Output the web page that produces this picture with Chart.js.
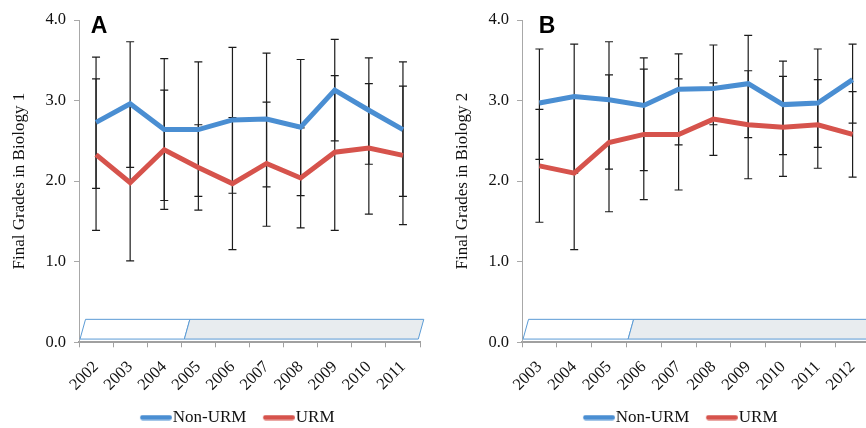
<!DOCTYPE html>
<html><head><meta charset="utf-8">
<script src="https://cdn.jsdelivr.net/npm/chart.js@4.4.0/dist/chart.umd.min.js"></script>
<style>
html,body{margin:0;padding:0;background:#fff;width:866px;height:428px;overflow:hidden;position:relative}
#ca{position:absolute;left:0;top:0}
#cb{position:absolute;left:443px;top:0}
</style></head><body>
<canvas id="ca" width="468" height="436"></canvas>
<canvas id="cb" width="468" height="436"></canvas>
<script>
// ---- Panel A: Biology 1 ----
const yearsA = ['2002','2003','2004','2005','2006','2007','2008','2009','2010','2011'];
const nonUrmA   = [2.73, 2.96, 2.64, 2.64, 2.76, 2.77, 2.67, 3.13, 2.88, 2.64];
const nonUrmHiA = [3.54, 3.73, 3.52, 3.48, 3.66, 3.59, 3.51, 3.76, 3.53, 3.48];
const nonUrmLoA = [1.91, 2.17, 1.76, 1.81, 1.85, 1.93, 1.82, 2.50, 2.21, 1.81];
const urmA      = [2.33, 1.98, 2.39, 2.17, 1.97, 2.22, 2.04, 2.36, 2.41, 2.32];
const urmHiA    = [3.27, 2.95, 3.13, 2.70, 2.79, 2.98, 2.66, 3.31, 3.21, 3.18];
const urmLoA    = [1.39, 1.01, 1.65, 1.64, 1.15, 1.44, 1.42, 1.39, 1.59, 1.46];
// phases (category-index ranges): before / after curriculum change
const phasesA = [[-0.47, 2.59], [2.59, 9.45]];

// ---- Panel B: Biology 2 ----
const yearsB = ['2003','2004','2005','2006','2007','2008','2009','2010','2011','2012'];
const nonUrmB   = [2.97, 3.05, 3.01, 2.94, 3.14, 3.15, 3.21, 2.95, 2.97, 3.26];
const nonUrmHiB = [3.64, 3.70, 3.73, 3.53, 3.58, 3.69, 3.81, 3.49, 3.64, 3.70];
const nonUrmLoB = [2.27, 2.10, 2.15, 2.13, 2.45, 2.70, 2.54, 2.33, 2.42, 2.72];
const urmB      = [2.19, 2.10, 2.48, 2.58, 2.58, 2.77, 2.70, 2.67, 2.70, 2.58];
const urmHiB    = [2.89, 3.05, 3.32, 3.39, 3.27, 3.22, 3.37, 3.30, 3.26, 3.11];
const urmLoB    = [1.49, 1.15, 1.62, 1.77, 1.89, 2.32, 2.03, 2.06, 2.16, 2.05];
const phasesB = [[-0.47, 2.55], [2.55, 9.6]];

const seriesNames = ['Non-URM', 'URM'];
const yTickValues = [0, 1, 2, 3, 4];
const phaseBand = [0.04, 0.285];

const BLUE = '#4a8ed2', RED = '#d6534c';
const SERIF = '"Liberation Serif", "Times New Roman", serif';

// legend swatch: rounded line, drawn right of the legend box centre
function swatch(color) {
  const c = document.createElement('canvas');
  c.width = 46; c.height = 6;
  const g = c.getContext('2d');
  g.strokeStyle = color; g.lineWidth = 5; g.lineCap = 'round';
  g.beginPath(); g.moveTo(16.7, 3); g.lineTo(43.4, 3); g.stroke();
  return c;
}

const decor = {
  id: 'decor',
  beforeDatasetsDraw(chart, args, opts) {
    const ctx = chart.ctx, x = chart.scales.x, y = chart.scales.y;
    ctx.save();
    // phase parallelograms
    const yb = y.getPixelForValue(phaseBand[0]), yt = y.getPixelForValue(phaseBand[1]);
    const slant = 5.5;
    opts.phases.forEach((p, k) => {
      const x0 = x.getPixelForValue(p[0]), x1 = x.getPixelForValue(p[1]);
      ctx.beginPath();
      ctx.moveTo(x0, yb); ctx.lineTo(x0 + slant, yt); ctx.lineTo(x1 + slant, yt); ctx.lineTo(x1, yb); ctx.closePath();
      ctx.fillStyle = k === 0 ? '#ffffff' : '#e8ecef';
      ctx.fill();
      ctx.strokeStyle = '#5b9bd5'; ctx.lineWidth = 1; ctx.stroke();
    });
    // error bars
    ctx.strokeStyle = '#1c1c1c'; ctx.lineWidth = 1.2;
    chart.data.datasets.forEach(ds => {
      ds.errHi.forEach((hi, i) => {
        const lo = ds.errLo[i];
        const px = x.getPixelForValue(i);
        const yh = y.getPixelForValue(hi), yl = y.getPixelForValue(lo);
        ctx.beginPath();
        ctx.moveTo(px, yh); ctx.lineTo(px, yl);
        ctx.moveTo(px - 4, yh); ctx.lineTo(px + 4, yh);
        ctx.moveTo(px - 4, yl); ctx.lineTo(px + 4, yl);
        ctx.stroke();
      });
    });
    ctx.restore();
  },
  afterDraw(chart, args, opts) {
    const ctx = chart.ctx, a = chart.chartArea;
    ctx.save();
    ctx.fillStyle = '#000';
    ctx.font = 'bold 23px "Liberation Sans", Arial, sans-serif';
    ctx.textBaseline = 'alphabetic';
    ctx.fillText(opts.letter, a.left + opts.letterDx, a.top + 12.7);
    ctx.restore();
  }
};

function makeChart(id, years, s1, s1hi, s1lo, s2, s2hi, s2lo, title, phases, letter, letterDx, rightW) {
  return new Chart(document.getElementById(id), {
    type: 'line',
    data: {
      labels: years,
      datasets: [
        { label: seriesNames[0], data: s1, errHi: s1hi, errLo: s1lo, borderColor: BLUE, backgroundColor: BLUE,
          borderWidth: 5, pointRadius: 0, tension: 0, borderCapStyle: 'butt', fill: false },
        { label: seriesNames[1], data: s2, errHi: s2hi, errLo: s2lo, borderColor: RED, backgroundColor: RED,
          borderWidth: 5, pointRadius: 0, tension: 0, borderCapStyle: 'butt', fill: false }
      ]
    },
    options: {
      responsive: false, animation: false, devicePixelRatio: 1,
      layout: { padding: { top: 20, left: 0, right: 0, bottom: 0 } },
      plugins: {
        tooltip: { enabled: false },
        decor: { phases: phases, letter: letter, letterDx: letterDx },
        legend: {
          position: 'bottom',
          labels: {
            usePointStyle: true, pointStyleWidth: 30.8, padding: 10,
            font: { family: SERIF, size: 17 }, color: '#111',
            generateLabels(chart) {
              return chart.data.datasets.map((ds, i) => ({
                text: ds.label, pointStyle: swatch(ds.borderColor), fillStyle: ds.borderColor,
                strokeStyle: ds.borderColor, lineWidth: 0, hidden: false, datasetIndex: i, fontColor: '#111'
              }));
            }
          }
        }
      },
      scales: {
        x: {
          type: 'category', offset: true,
          grid: { display: true, drawOnChartArea: false, drawTicks: true, tickLength: 5, color: '#a0a0a0', offset: true },
          border: { display: true, color: '#a0a0a0', width: 2 },
          ticks: { minRotation: 45, maxRotation: 45, padding: 10, color: '#111', font: { family: SERIF, size: 16.5 }, autoSkip: false },
          afterFit(s) { s.height = 56.7; }
        },
        y: {
          min: 0, max: 4,
          afterBuildTicks(s) { s.ticks = yTickValues.map(v => ({ value: v })); },
          grid: { display: true, drawOnChartArea: false, drawTicks: true, tickLength: 5, color: '#a8a8a8' },
          border: { display: true, color: '#a8a8a8', width: 1 },
          ticks: { padding: 8, color: '#111', font: { family: SERIF, size: 16.5 }, callback: v => Number(v).toFixed(1) },
          title: { display: true, text: title, color: '#111', font: { family: SERIF, size: 17 }, padding: { top: 9, bottom: 0 } },
          afterFit(s) { s.width = 79; }
        },
        yR: {
          position: 'right', display: true,
          grid: { display: false }, border: { display: false }, ticks: { display: false },
          afterFit(s) { s.width = rightW; }
        }
      }
    },
    plugins: [decor]
  });
}

makeChart('ca', yearsA, nonUrmA, nonUrmHiA, nonUrmLoA, urmA, urmHiA, urmLoA,
  'Final Grades in Biology 1', phasesA, 'A', 11.7, 48);
makeChart('cb', yearsB, nonUrmB, nonUrmHiB, nonUrmLoB, urmB, urmHiB, urmLoB,
  'Final Grades in Biology 2', phasesB, 'B', 16.7, 41);
</script>
</body></html>
